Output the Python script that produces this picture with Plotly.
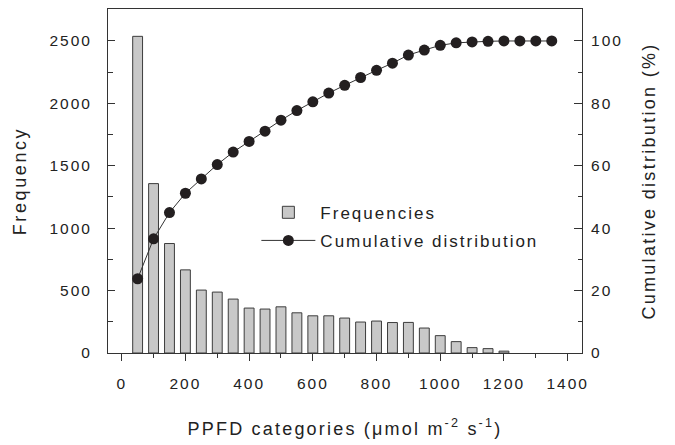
import plotly.graph_objects as go

# ---- data ----
categories = [50, 100, 150, 200, 250, 300, 350, 400, 450, 500, 550, 600, 650, 700,
              750, 800, 850, 900, 950, 1000, 1050, 1100, 1150, 1200, 1250, 1300, 1350]
frequencies = [2537, 1357, 877, 666, 504, 488, 432, 360, 352, 370, 322, 298, 298, 280,
               248, 256, 244, 245, 200, 139, 91, 43, 35, 15, 0, 0, 0]
cumulative = [23.8, 36.6, 45.0, 51.2, 55.8, 60.4, 64.4, 67.8, 71.1, 74.6, 77.7, 80.5,
              83.3, 85.8, 88.3, 90.6, 92.9, 95.5, 97.1, 98.6, 99.4, 99.7, 99.9,
              100.0, 100.0, 100.0, 100.0]

x_ticks = [0, 200, 400, 600, 800, 1000, 1200, 1400]
y_ticks = [0, 500, 1000, 1500, 2000, 2500]
y2_ticks = [0, 20, 40, 60, 80, 100]

FONT = "Liberation Sans, Arial, sans-serif"
TXT = "#222222"
LS = "letter-spacing:2px"


def sp(s, ls=LS):
    return f'<span style="{ls}">{s}</span>'


# only non-empty categories get a bar
bar_x = [c for c, f in zip(categories, frequencies) if f > 0]
bar_y = [f for f in frequencies if f > 0]

fig = go.Figure()

fig.add_trace(go.Bar(
    x=bar_x, y=bar_y, width=31,
    marker=dict(color="#c8c8c8", line=dict(color="#3c3c3c", width=1)),
    name=sp("Frequencies"), legendgroup="a",
))

fig.add_trace(go.Scatter(
    x=categories, y=cumulative, yaxis="y2", mode="lines+markers",
    line=dict(color="#333333", width=1),
    marker=dict(color="#231f20", size=11, line=dict(width=0)),
    name=sp("Cumulative distribution"), legendgroup="b",
))

axis_common = dict(showline=True, linecolor="#333333", linewidth=1, automargin=False,
                   showgrid=False, zeroline=False, tickcolor="#333333",
                   tickfont=dict(family=FONT, size=15.5, color=TXT))

fig.update_layout(
    width=675, height=445,
    margin=dict(l=108, r=93, t=9, b=92, autoexpand=False),
    paper_bgcolor="white", plot_bgcolor="white",
    font=dict(family=FONT, color=TXT),
    barmode="overlay",
    xaxis=dict(
        range=[-43, 1445], tickmode="array", tickvals=x_ticks,
        ticktext=[sp(str(v)) for v in x_ticks],
        ticks="outside", ticklen=7, mirror=True,
        minor=dict(dtick=100, tick0=0, ticks="outside", ticklen=4, tickcolor="#333333"),
        ticklabelstandoff=9,
        title=dict(text=sp("PPFD categories (\u03bcmol m<sup>-2</sup> s<sup>-1</sup>)", "letter-spacing:2.2px"),
                   font=dict(family=FONT, size=18, color=TXT), standoff=31),
        **axis_common,
    ),
    yaxis=dict(
        range=[0, 2756], tickmode="array", tickvals=y_ticks,
        ticktext=[sp(str(v)) for v in y_ticks],
        ticks="inside", ticklen=7, mirror=True,
        minor=dict(dtick=250, tick0=0, ticks="inside", ticklen=5, tickcolor="#333333"),
        ticklabelstandoff=12,
        title=dict(text=sp("Frequency", "letter-spacing:2.6px"),
                   font=dict(family=FONT, size=18, color=TXT), standoff=18),
        **axis_common,
    ),
    yaxis2=dict(
        range=[0, 110.25], overlaying="y", side="right", tickmode="array",
        tickvals=y2_ticks, ticktext=[sp(str(v)) for v in y2_ticks],
        ticks="inside", ticklen=8,
        minor=dict(dtick=10, tick0=0, ticks="inside", ticklen=4, tickcolor="#333333"),
        ticklabelstandoff=5,
        title=dict(text=sp("Cumulative distribution (%)", "letter-spacing:2.3px"),
                   font=dict(family=FONT, size=18, color=TXT), standoff=20),
        **axis_common,
    ),
    legend=dict(
        x=0.313, y=0.46, xanchor="left", yanchor="top",
        bgcolor="rgba(0,0,0,0)", font=dict(family=FONT, size=17, color=TXT),
        traceorder="grouped", tracegroupgap=3, itemwidth=54,
    ),
    showlegend=True,
)

fig.write_html("out.html", config={"displayModeBar": False},
               post_script="document.body.style.margin='0';")
